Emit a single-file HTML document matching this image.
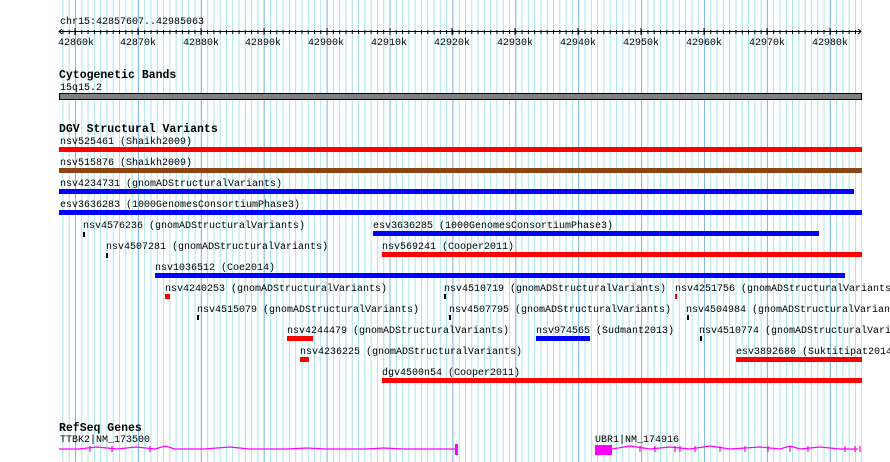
<!DOCTYPE html>
<html><head><meta charset="utf-8"><style>
html,body{margin:0;padding:0;background:#fff;}
svg{display:block;}
text{font-family:"Liberation Mono","DejaVu Sans Mono",monospace;font-size:10px;fill:#000;}
.b{font-weight:bold;font-size:11.5px;}
</style></head><body>
<svg width="890" height="462" xmlns="http://www.w3.org/2000/svg">
<defs>
<pattern id="mn" x="75" y="0" width="6.29" height="462" patternUnits="userSpaceOnUse">
<rect x="0" y="0" width="1" height="462" fill="#a8e4ec"/>
</pattern>
<pattern id="mj" x="75" y="0" width="62.9" height="462" patternUnits="userSpaceOnUse">
<rect x="0" y="0" width="1" height="462" fill="#80b8e0"/>
</pattern>
<pattern id="tk" x="75" y="0" width="6.29" height="462" patternUnits="userSpaceOnUse">
<rect x="0" y="0" width="1" height="462" fill="#000"/>
</pattern>
</defs>
<rect x="59" y="0" width="803" height="462" fill="url(#mn)"/>
<rect x="59" y="0" width="803" height="462" fill="url(#mj)"/>
<!-- ruler -->
<text x="60" y="24">chr15:42857607..42985063</text>
<line x1="59" y1="31.5" x2="861" y2="31.5" stroke="#000"/>
<rect x="62" y="30" width="796" height="4" fill="url(#tk)"/>
<path d="M62,29 L59,31.5 L62,34 M858,29 L861,31.5 L858,34" stroke="#000" fill="none"/>
<g stroke="#000">
<path d="M75,28V35 M138,28V35 M201,28V35 M264,28V35 M327,28V35 M390,28V35 M452,28V35 M515,28V35 M578,28V35 M641,28V35 M704,28V35 M767,28V35 M830,28V35"/>
</g>
<g fill="#000">
<text x="58" y="45">42860k</text><text x="120" y="45">42870k</text><text x="183" y="45">42880k</text><text x="245" y="45">42890k</text><text x="308" y="45">42900k</text><text x="371" y="45">42910k</text><text x="434" y="45">42920k</text><text x="497" y="45">42930k</text><text x="560" y="45">42940k</text><text x="623" y="45">42950k</text><text x="686" y="45">42960k</text><text x="749" y="45">42970k</text><text x="812" y="45">42980k</text>
</g>
<!-- cyto -->
<text class="b" x="59" y="78">Cytogenetic Bands</text>
<text x="60" y="90">15q15.2</text>
<rect x="59.5" y="93.5" width="802" height="6" fill="#808080" stroke="#000"/>
<!-- DGV -->
<text class="b" x="59" y="132">DGV Structural Variants</text>
<text x="60" y="144">nsv525461 (Shaikh2009)</text>
<rect x="59" y="147" width="803" height="5" fill="#f00"/>
<text x="60" y="165">nsv515876 (Shaikh2009)</text>
<rect x="59" y="168" width="803" height="5" fill="#8b4513"/>
<text x="60" y="186">nsv4234731 (gnomADStructuralVariants)</text>
<rect x="59" y="189" width="795" height="5" fill="#00f"/>
<text x="60" y="207">esv3636283 (1000GenomesConsortiumPhase3)</text>
<rect x="59" y="210" width="803" height="5" fill="#00f"/>

<text x="83" y="228">nsv4576236 (gnomADStructuralVariants)</text>
<rect x="83" y="232" width="2" height="5" fill="#000"/>
<text x="373" y="228">esv3636285 (1000GenomesConsortiumPhase3)</text>
<rect x="373" y="231" width="446" height="5" fill="#00f"/>

<text x="106" y="249">nsv4507281 (gnomADStructuralVariants)</text>
<rect x="106" y="253" width="2" height="5" fill="#000"/>
<text x="382" y="249">nsv569241 (Cooper2011)</text>
<rect x="382" y="252" width="480" height="5" fill="#f00"/>

<text x="155" y="270">nsv1036512 (Coe2014)</text>
<rect x="155" y="273" width="690" height="5" fill="#00f"/>

<text x="165" y="291">nsv4240253 (gnomADStructuralVariants)</text>
<rect x="165" y="294" width="5" height="5" fill="#f00"/>
<text x="444" y="291">nsv4510719 (gnomADStructuralVariants)</text>
<rect x="444" y="294" width="2" height="5" fill="#000"/>
<text x="675" y="291">nsv4251756 (gnomADStructuralVariants)</text>
<rect x="675" y="294" width="2" height="5" fill="#f00"/>

<text x="197" y="312">nsv4515079 (gnomADStructuralVariants)</text>
<rect x="197" y="315" width="2" height="5" fill="#000"/>
<text x="449" y="312">nsv4507795 (gnomADStructuralVariants)</text>
<rect x="449" y="315" width="2" height="5" fill="#000"/>
<text x="686" y="312">nsv4504984 (gnomADStructuralVariants)</text>
<rect x="687" y="315" width="2" height="5" fill="#000"/>

<text x="287" y="333">nsv4244479 (gnomADStructuralVariants)</text>
<rect x="287" y="336" width="26" height="5" fill="#f00"/>
<text x="536" y="333">nsv974565 (Sudmant2013)</text>
<rect x="536" y="336" width="54" height="5" fill="#00f"/>
<text x="699" y="333">nsv4510774 (gnomADStructuralVariants)</text>
<rect x="700" y="336" width="2" height="5" fill="#000"/>

<text x="300" y="354">nsv4236225 (gnomADStructuralVariants)</text>
<rect x="300" y="357" width="9" height="5" fill="#f00"/>
<text x="736" y="354">esv3892680 (Suktitipat2014)</text>
<rect x="736" y="357" width="126" height="5" fill="#f00"/>

<text x="382" y="375">dgv4500n54 (Cooper2011)</text>
<rect x="382" y="378" width="480" height="5" fill="#f00"/>
<!-- RefSeq -->
<text class="b" x="59" y="431">RefSeq Genes</text>
<text x="60" y="442">TTBK2|NM_173500</text>
<g stroke="#f0f" fill="none" stroke-width="1.2">
<polyline points="59,449 78,449 97,447 117,449 136,447 155,449 165,446 175,449 204,449 230,447 249,449 268,449 287,449 307,448 326,449 345,449 365,449 384,448 403,449 423,449 443,449 457,449"/>
<path d="M90,446V452 M112,446V452 M150,446V452"/>
<polyline points="612,449 630,446 650,449 670,447 690,449 710,446 730,449 760,447 780,449 790,446 800,449 820,447 840,449 858,449"/>
<path d="M640,446V452 M655,446V452 M675,446V452 M680,446V452 M695,446V452 M720,446V452 M745,446V452 M768,446V452 M790,446V452 M808,446V452 M845,446V452 M855,446V452 M860,446V452"/>
</g>
<rect x="455" y="444" width="3" height="11" fill="#f0f"/>
<text x="595" y="442">UBR1|NM_174916</text>
<rect x="595" y="445" width="17" height="10" fill="#f0f"/>
</svg>
</body></html>
